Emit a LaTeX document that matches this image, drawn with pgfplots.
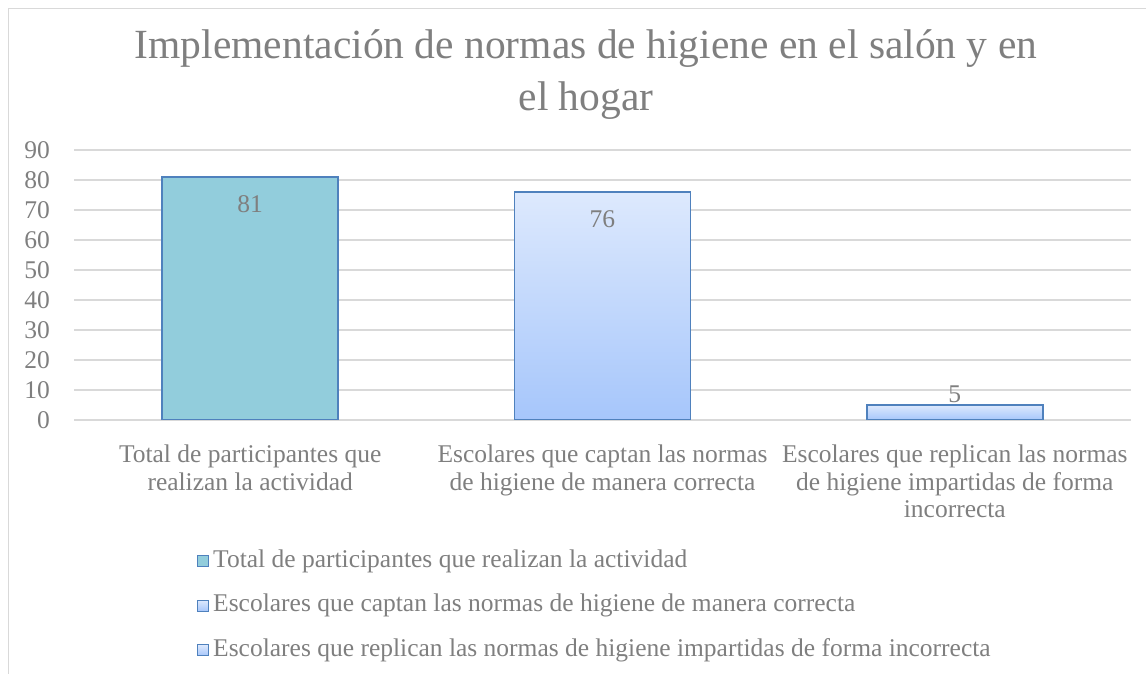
\documentclass[border=0pt]{standalone}
\usepackage{fontspec}
\setmainfont{Liberation Serif}
\usepackage{pgfplots}
\pgfplotsset{compat=1.18}
\definecolor{txt}{HTML}{7F7F7F}
\definecolor{gridc}{HTML}{D9D9D9}
\definecolor{edge}{HTML}{4F81BD}
\definecolor{b1}{HTML}{92CDDC}
\definecolor{b2top}{HTML}{DDE9FD}
\definecolor{b2bot}{HTML}{A6C6FB}
\begin{document}
\begin{tikzpicture}[x=1pt,y=1pt]
\useasboundingbox (0,0) rectangle (1146,674);
\draw[gridc, line width=1pt] (8,-20) -- (8,665) -- (1170,665);
\node[txt, font=\fontsize{41.5}{52}\selectfont, align=center, inner sep=0pt] at (586,599) {Implementación de normas de higiene en el salón y en\\el hogar};
\begin{axis}[
  at={(74pt,254pt)}, anchor=south west,
  scale only axis, width=1057pt, height=270pt,
  xmin=-0.5, xmax=2.5, ymin=0, ymax=90,
  ytick={0,10,...,90}, xtick={0,1,2},
  xticklabels={{Total de participantes que\\realizan la actividad},
               {Escolares que captan las normas\\de higiene de manera correcta},
               {Escolares que replican las normas\\de higiene impartidas de forma\\incorrecta}},
  ymajorgrids, grid style={gridc, line width=1.2pt},
  axis line style={draw=none}, major tick length=0pt, tick style={draw=none},
  ticklabel style={txt, font=\fontsize{25.5}{27.5}\selectfont, inner sep=0pt},
  /pgf/number format/assume math mode=true,
  yticklabel style={anchor=east, xshift=-24pt},
  xticklabel style={align=center, anchor=north, yshift=-25pt},
  ybar,
  legend style={at={(0.1164,-0.4815)}, anchor=north west, draw=none, fill=none,
    font=\fontsize{25.5}{28}\selectfont, text=txt, inner sep=0pt, row sep=22.5pt,
    nodes={inner sep=0pt, text height=17pt, text depth=5pt},
    /tikz/every odd column/.append style={column sep=4pt}},
  legend cell align=left,
  mylegend/.style={legend image code/.code={\draw[##1, line width=1pt] (0pt,-5.5pt) rectangle (11pt,5.5pt);}},
  nodes near coords,
  every node near coord/.append style={txt, font=\fontsize{25.5}{28}\selectfont, anchor=center, inner sep=0pt},
]
\addplot[bar width=176pt, bar shift=0pt, draw=edge, line width=1.6pt, fill=b1, mylegend,
  every node near coord/.append style={yshift=-27pt}] coordinates {(0,81)};
\addplot[bar width=176pt, bar shift=0pt, draw=edge, line width=1.6pt, top color=b2top, bottom color=b2bot, mylegend,
  every node near coord/.append style={yshift=-27pt}] coordinates {(1,76)};
\addplot[bar width=176pt, bar shift=0pt, draw=edge, line width=1.6pt, top color=b2top, bottom color=b2bot, mylegend,
  every node near coord/.append style={yshift=11pt}] coordinates {(2,5)};
\legend{Total de participantes que realizan la actividad,
        Escolares que captan las normas de higiene de manera correcta,
        Escolares que replican las normas de higiene impartidas de forma incorrecta}
\end{axis}
\end{tikzpicture}
\end{document}
